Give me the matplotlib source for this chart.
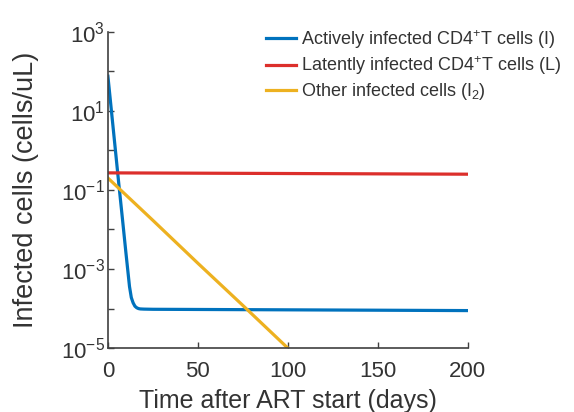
import numpy as np
import matplotlib.pyplot as plt
from matplotlib.ticker import FixedLocator, FuncFormatter

plt.rcParams['font.family'] = ['Liberation Sans', 'DejaVu Sans']
plt.rcParams['mathtext.fontset'] = 'custom'
plt.rcParams['mathtext.rm'] = 'Liberation Sans'
plt.rcParams['mathtext.it'] = 'Liberation Sans'

# values (cells/uL)
t_active = [0, 2, 4, 6, 8, 10, 12, 13, 14, 15, 16, 17, 18, 20, 25, 50, 100, 150, 200]
i_active = [75, 9.5, 1.2, 0.15, 0.02, 2.6e-3, 3.6e-4, 1.9e-4, 1.4e-4, 1.15e-4, 1.05e-4, 1.0e-4,
            0.98e-4, 0.97e-4, 0.96e-4, 0.95e-4, 0.93e-4, 0.91e-4, 0.89e-4]

t_latent = [0, 50, 100, 150, 200]
i_latent = [0.27, 0.265, 0.26, 0.255, 0.25]

t_other = [0, 25, 50, 75, 100]
i_other = [0.2, 1.7e-2, 1.4e-3, 1.2e-4, 1.0e-5]

labels = ['Actively infected CD4$^{+}$T cells (I)',
          'Latently infected CD4$^{+}$T cells (L)',
          'Other infected cells (I$_{2}$)']
colors = ['#0072bd', '#dc2f2b', '#edb120']

fig = plt.figure(figsize=(5.74, 4.12), dpi=100)
ax = fig.add_axes([0.188, 0.155, 0.627, 0.768])

ax.plot(t_active, i_active, color=colors[0], lw=2.3, label=labels[0])
ax.plot(t_latent, i_latent, color=colors[1], lw=2.3, label=labels[1])
ax.plot(t_other, i_other, color=colors[2], lw=2.3, label=labels[2])

ax.set_yscale('log')
ax.set_xlim(0, 200)
ax.set_ylim(1e-5, 1e3)

ax.yaxis.set_major_locator(FixedLocator([10.0 ** k for k in range(-5, 4)]))
ax.yaxis.set_minor_locator(FixedLocator([]))


def ylab(v, pos):
    k = int(round(np.log10(v)))
    if k % 2 == 0:
        return ''
    return r'$\mathregular{10^{%d}}$' % k


ax.yaxis.set_major_formatter(FuncFormatter(ylab))
ax.set_xticks([0, 50, 100, 150, 200])

gray = '#404040'
for s in ['top', 'right']:
    ax.spines[s].set_visible(False)
for s in ['left', 'bottom']:
    ax.spines[s].set_color(gray)
    ax.spines[s].set_linewidth(1.2)
ax.tick_params(direction='in', length=4, width=1.0, colors=gray, labelsize=16, labelcolor='#333333')
ax.tick_params(axis='x', pad=9)
ax.tick_params(axis='y', pad=2)

ax.set_xlabel('Time after ART start (days)', fontsize=18, color='#333333', labelpad=5)
ax.set_ylabel('Infected cells (cells/uL)', fontsize=19.5, color='#333333', labelpad=16)

leg = ax.legend(loc='upper left', bbox_to_anchor=(0.42, 1.035), frameon=False, fontsize=13,
                handlelength=1.65, handletextpad=0.27, labelspacing=0.22, borderaxespad=0)
for txt in leg.get_texts():
    txt.set_color('#333333')

fig.savefig('out.png', dpi=100)
